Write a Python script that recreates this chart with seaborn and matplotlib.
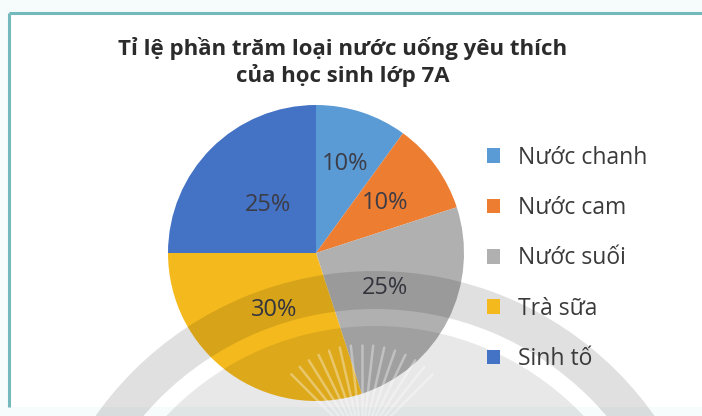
import numpy as np
import matplotlib
matplotlib.use("Agg")
import matplotlib.pyplot as plt
from matplotlib.patches import Patch, Wedge, Circle, Rectangle
import seaborn as sns

# Data
categories = ["Nước chanh", "Nước cam", "Nước suối", "Trà sữa", "Sinh tố"]
percentages = [10, 10, 25, 30, 25]
title_lines = ["Tỉ lệ phần trăm loại nước uống yêu thích", "của học sinh lớp 7A"]

sns.set_theme(style="white")
plt.rcParams["font.family"] = ["Open Sans", "DejaVu Sans"]

colors = sns.color_palette(["#5B9BD5", "#ED7D31", "#B0B0B0", "#F4BA1D", "#4472C4"])
# distance of each percentage label from the pie centre (fraction of radius)
label_radii = [0.63, 0.58, 0.52, 0.48, 0.46]

W, H = 702, 416
fig = plt.figure(figsize=(W / 100, H / 100), dpi=100)
fig.patch.set_facecolor("#f6fbfb")

# Frame (pixel coordinates, y downwards)
bg = fig.add_axes([0, 0, 1, 1], zorder=0)
bg.set_xlim(0, W)
bg.set_ylim(H, 0)
bg.axis("off")
bg.add_patch(Rectangle((9, 13), W, 394, facecolor="white", edgecolor="none"))
bg.plot([9, W], [13, 13], color="#74babc", lw=2.2, solid_capstyle="butt")
bg.plot([9, 9], [13, 407], color="#74babc", lw=2.2, solid_capstyle="butt")

# Pie
cx, cy, r = 316, 253, 148
ax = fig.add_axes([(cx - r) / W, (H - cy - r) / H, 2 * r / W, 2 * r / H], zorder=1)
wedges, texts, autotexts = ax.pie(
    percentages,
    colors=colors,
    startangle=90,
    counterclock=False,
    autopct=lambda p: f"{p:.0f}%",
    pctdistance=0.55,
    wedgeprops=dict(linewidth=0),
    textprops=dict(fontsize=17, color="#3c3c46"),
)
for w, t, d in zip(wedges, autotexts, label_radii):
    mid = np.deg2rad((w.theta1 + w.theta2) / 2)
    t.set_position((d * np.cos(mid), d * np.sin(mid)))
ax.set_xlim(-1, 1)
ax.set_ylim(-1, 1)
ax.set_aspect("equal")

# Title
fig.text(343 / W, 1 - 62 / H, "\n".join(title_lines), ha="center", va="center",
         fontsize=16, fontweight="bold", color="#2b2b2b", linespacing=1.22)

# Legend
handles = [Patch(facecolor=c, edgecolor="none") for c in colors]
fig.legend(handles, categories, loc="upper left",
           bbox_to_anchor=(466 / W, 1 - 125 / H), frameon=False,
           fontsize=16.5, handlelength=0.6, handleheight=0.6,
           handletextpad=0.75, labelspacing=1.15, labelcolor="#3a3a3a")

# Watermark overlay
ov = fig.add_axes([0, 0, 1, 1], zorder=5)
ov.set_xlim(0, W)
ov.set_ylim(H, 0)
ov.axis("off")
ov.patch.set_alpha(0)
wx, wy = 375, 613
ov.add_patch(Wedge((wx, wy), 342, 0, 360, width=38, facecolor="black",
                   edgecolor="none", alpha=0.12))
ov.add_patch(Circle((wx, wy), 287, facecolor="black", edgecolor="none", alpha=0.09))
for ang in np.linspace(45, 135, 15):
    a = np.deg2rad(ang)
    x0, y0 = 362, 445
    ov.plot([x0 + 30 * np.cos(a), x0 + 100 * np.cos(a)],
            [y0 - 30 * np.sin(a), y0 - 100 * np.sin(a)],
            color="white", lw=1.8, alpha=0.35, solid_capstyle="round")

fig.savefig("out.png", dpi=100, facecolor=fig.get_facecolor())
